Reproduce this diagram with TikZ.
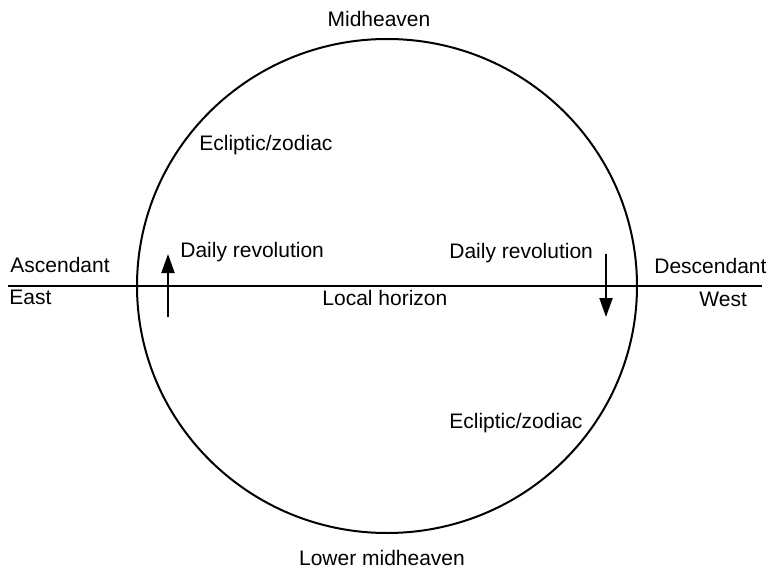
\documentclass[tikz,border=0pt]{standalone}
\usepackage{fontspec}
\setmainfont{Liberation Sans}
\usetikzlibrary{arrows.meta}
\usetikzlibrary{positioning}

\tikzset{
  lbl/.style={inner sep=0pt, anchor=base west, font=\fontsize{10.5}{12.6}\selectfont},
  motion/.style={line width=1pt, -{Triangle[length=9.5pt,width=6.5pt]}}
}

\begin{document}
\begin{tikzpicture}[x=0.5pt, y=-0.5pt]
		\useasboundingbox (0,0) rectangle (766,567);
		% sphere and horizon
		\draw[line width=1pt] (387,286) ellipse [x radius=250, y radius=247];
		\coordinate (eastend) at (8,286);
		\coordinate (westend) at (762,286);
		\draw[line width=1pt] (eastend) -- (westend);
		% cardinal points
		\node[lbl, anchor=base] (mc) at (379,27) {Midheaven};
		\node[lbl, anchor=base] (ic) at (382,565) {Lower midheaven};
		\node[lbl] (asc) at (10,272) {Ascendant};
		\node[lbl] (east) at (9,304) {East};
		\node[lbl] (dsc) at (654,273) {Descendant};
		\node[lbl] (west) at (699,306) {West};
		\node[lbl] (horizon) at (322,305) {Local horizon};
		\node[lbl] (eclup) at (199,151) {Ecliptic/zodiac};
		\node[lbl] (ecldown) at (449,428) {Ecliptic/zodiac};
		% daily motion
		\node[lbl] (riseleft) at (180,257) {Daily revolution};
		\node[lbl] (setright) at (449,258) {Daily revolution};
		\coordinate (risefoot) at (168,317);
		\coordinate (risetip) at (168,254);
		\coordinate (setfoot) at (606,254);
		\coordinate (settip) at (606,317);
		\draw[motion] (risefoot) -- (risetip);
		\draw[motion] (setfoot) -- (settip);
	\end{tikzpicture}
\end{document}
